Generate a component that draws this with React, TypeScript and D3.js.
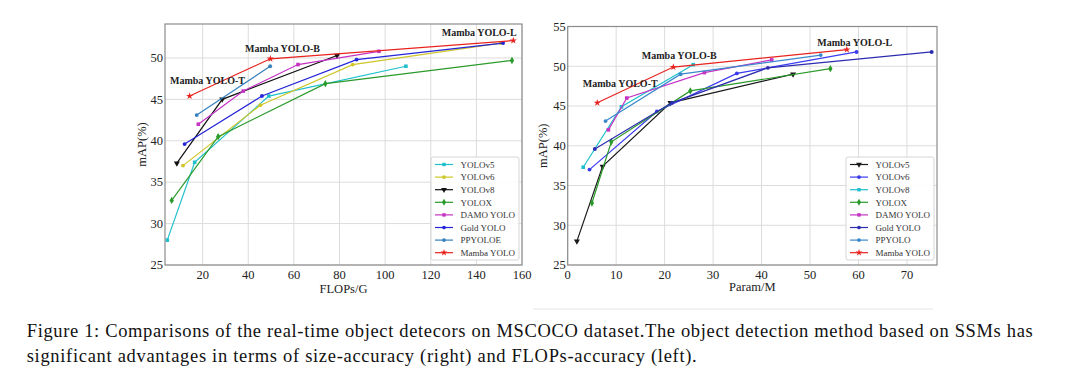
import React from 'react';
import * as d3 from 'd3';

// ---- DATA ----
const seriesNamesLeft = ['YOLOv5', 'YOLOv6', 'YOLOv8', 'YOLOX', 'DAMO YOLO', 'Gold YOLO', 'PPYOLOE', 'Mamba YOLO'];
const seriesNamesRight = ['YOLOv5', 'YOLOv6', 'YOLOv8', 'YOLOX', 'DAMO YOLO', 'Gold YOLO', 'PPYOLO', 'Mamba YOLO'];

// FLOPs (G) vs mAP
const yolov5Flops = [4.5, 16.5, 49.0, 109.1];
const yolov5MapL = [28.0, 37.4, 45.4, 49.0];
const yolov6Flops = [11.4, 45.3, 85.8, 150.7];
const yolov6MapL = [37.0, 44.3, 49.2, 51.8];
const yolov8Flops = [8.7, 28.6, 78.9];
const yolov8MapL = [37.3, 45.0, 50.3];
const yoloxFlops = [6.45, 26.8, 73.8, 155.6];
const yoloxMapL = [32.8, 40.5, 46.9, 49.7];
const damoFlops = [18.1, 37.8, 61.8, 97.3];
const damoMapL = [42.0, 46.0, 49.2, 50.8];
const goldFlops = [12.1, 46.0, 87.5, 151.7];
const goldMapL = [39.6, 45.4, 49.8, 51.8];
const ppyoloeFlops = [17.4, 49.6];
const ppyoloeMapL = [43.1, 49.0];
const mambaFlops = [14.3, 49.7, 156.2];
const mambaMapL = [45.4, 49.9, 52.1];

// Params (M) vs mAP
const yolov5Params = [1.9, 7.2, 21.2, 46.5];
const yolov5MapR = [28.0, 37.4, 45.4, 49.0];
const yolov6Params = [4.5, 18.4, 34.9, 59.6];
const yolov6MapR = [37.0, 44.3, 49.1, 51.8];
const yolov8Params = [3.2, 11.1, 25.9];
const yolov8MapR = [37.3, 44.9, 50.2];
const yoloxParams = [5.0, 9.0, 25.3, 54.2];
const yoloxMapR = [32.8, 40.5, 46.9, 49.7];
const damoParams = [8.4, 12.2, 28.2, 42.1];
const damoMapR = [42.0, 46.0, 49.2, 50.8];
const goldParams = [5.6, 21.5, 41.3, 75.1];
const goldMapR = [39.6, 45.4, 49.8, 51.8];
const ppyoloParams = [7.8, 23.3, 52.2];
const ppyoloMapR = [43.1, 49.0, 51.4];
const mambaParams = [6.1, 21.8, 57.6];
const mambaMapR = [45.4, 49.9, 52.1];

const leftXTicks = [20, 40, 60, 80, 100, 120, 140, 160];
const rightXTicks = [0, 10, 20, 30, 40, 50, 60, 70];
const yTicks = [25, 30, 35, 40, 45, 50, 55];

const annotationText = ['Mamba YOLO-T', 'Mamba YOLO-B', 'Mamba YOLO-L'];
const annotLeftX = [5.7, 38.6, 124.8];
const annotLeftY = [46.9, 50.7, 52.7];
const annotRightX = [3.1, 15.3, 51.5];
const annotRightY = [47.4, 50.9, 52.55];

const captionLines = [
  'Figure 1: Comparisons of the real-time object detecors on MSCOCO dataset.The object detection method based on SSMs has',
  'significant advantages in terms of size-accuracy (right) and FLOPs-accuracy (left).',
];

// ---- STYLE ----
const serif = '"Liberation Serif", "Times New Roman", serif';
const gridColor = '#dcdcdc';
const spineColor = '#8c8c8c';

const colorsLeft = ['#1fc0cc', '#cfc62a', '#111111', '#2a9a2a', '#c533c5', '#2424d8', '#3580bd', '#e8231e'];
const colorsRight = ['#1a1a1a', '#3a3af0', '#1fc0cc', '#2a9a2a', '#c533c5', '#2c2cb0', '#3a88cc', '#e8231e'];
// marker kinds: 'sq' square, 'dot' small circle, 'tri' triangle down, 'dia' diamond, 'star'
const markersLeft = ['sq', 'dot', 'tri', 'dia', 'sq', 'dot', 'dot', 'star'];
const markersRight = ['tri', 'dot', 'sq', 'dia', 'sq', 'dot', 'dot', 'star'];

type Series = { name: string; xs: number[]; ys: number[]; color: string; marker: string };

const leftSeries: Series[] = [
  [yolov5Flops, yolov5MapL], [yolov6Flops, yolov6MapL], [yolov8Flops, yolov8MapL], [yoloxFlops, yoloxMapL],
  [damoFlops, damoMapL], [goldFlops, goldMapL], [ppyoloeFlops, ppyoloeMapL], [mambaFlops, mambaMapL],
].map(([xs, ys], i) => ({ name: seriesNamesLeft[i], xs, ys, color: colorsLeft[i], marker: markersLeft[i] }));

const rightSeries: Series[] = [
  [yolov5Params, yolov5MapR], [yolov6Params, yolov6MapR], [yolov8Params, yolov8MapR], [yoloxParams, yoloxMapR],
  [damoParams, damoMapR], [goldParams, goldMapR], [ppyoloParams, ppyoloMapR], [mambaParams, mambaMapR],
].map(([xs, ys], i) => ({ name: seriesNamesRight[i], xs, ys, color: colorsRight[i], marker: markersRight[i] }));

function markerPath(kind: string, scale = 1) {
  const types: Record<string, [d3.SymbolType, number]> = {
    sq: [d3.symbolSquare, 13],
    dot: [d3.symbolCircle, 12],
    tri: [d3.symbolTriangle, 16],
    dia: [d3.symbolDiamond, 16],
    star: [d3.symbolStar, 16],
  };
  const [t, s] = types[kind];
  return d3.symbol().type(t).size(s * scale)() || '';
}

type PanelProps = {
  series: Series[];
  x: d3.ScaleLinear<number, number>;
  y: d3.ScaleLinear<number, number>;
  xTicks: number[];
  xLabel: string;
  xLabelY: number;
  yLabelX: number;
  annX: number[];
  annY: number[];
  legend: { x: number; y: number; w: number; h: number };
};

function Panel({ series, x, y, xTicks, xLabel, xLabelY, yLabelX, annX, annY, legend }: PanelProps) {
  const [x0, x1] = x.range();
  const [y0, y1] = y.range();
  const yt = yTicks.filter(t => t >= y.domain()[0] && t <= y.domain()[1] + 0.01);
  const line = d3.line<number>();
  return (
    <g>
      {/* grid */}
      {xTicks.map(t => (
        <line key={'gx' + t} x1={x(t)} x2={x(t)} y1={y0} y2={y1} stroke={gridColor} strokeWidth={1} />
      ))}
      {yt.map(t => (
        <line key={'gy' + t} x1={x0} x2={x1} y1={y(t)} y2={y(t)} stroke={gridColor} strokeWidth={1} />
      ))}
      {/* series */}
      {series.map(s => {
        const pts = s.xs.map((v, i) => [x(v), y(s.ys[i])] as [number, number]);
        const sym = markerPath(s.marker);
        const rot = s.marker === 'tri' ? ' rotate(180)' : '';
        return (
          <g key={s.name}>
            <path d={line(pts) || ''} fill="none" stroke={s.color} strokeWidth={1.2} />
            {pts.map((p, i) => (
              <path key={i} d={sym} transform={`translate(${p[0]},${p[1]})${rot}`} fill={s.color} />
            ))}
          </g>
        );
      })}
      {/* frame */}
      <rect x={x0} y={y1} width={x1 - x0} height={y0 - y1} fill="none" stroke={spineColor} strokeWidth={1.2} />
      {/* ticks */}
      {xTicks.map(t => (
        <text key={'tx' + t} x={x(t)} y={y0 + 13.5} textAnchor="middle" fontFamily={serif} fontSize={12.5} fill="#222">{t}</text>
      ))}
      {yt.map(t => (
        <text key={'ty' + t} x={x0 - 2} y={y(t) + 4.3} textAnchor="end" fontFamily={serif} fontSize={12.5} fill="#222">{t}</text>
      ))}
      <text x={(x0 + x1) / 2} y={xLabelY} textAnchor="middle" fontFamily={serif} fontSize={12.5} fill="#222">{xLabel}</text>
      <text transform={`translate(${yLabelX},${(y0 + y1) / 2}) rotate(-90)`} textAnchor="middle" fontFamily={serif} fontSize={12.5} fill="#222">mAP(%)</text>
      {/* annotations */}
      {annotationText.map((t, i) => (
        <text key={t} x={x(annX[i])} y={y(annY[i])} fontFamily={serif} fontWeight="bold" fontSize={10} fill="#222">{t}</text>
      ))}
      {/* legend */}
      <rect x={legend.x} y={legend.y} width={legend.w} height={legend.h} rx={2} fill="#fff" fillOpacity={0.9} stroke="#d6d6d6" strokeWidth={1} />
      {series.map((s, i) => {
        const ry = legend.y + 7.5 + i * 12.6;
        const rot = s.marker === 'tri' ? ' rotate(180)' : '';
        return (
          <g key={'lg' + s.name}>
            <line x1={legend.x + 4} x2={legend.x + 22} y1={ry} y2={ry} stroke={s.color} strokeWidth={1.2} />
            <path d={markerPath(s.marker, 0.9)} transform={`translate(${legend.x + 13},${ry})${rot}`} fill={s.color} />
            <text x={legend.x + 29.5} y={ry + 3.2} fontFamily={serif} fontSize={9} fill="#333">{s.name}</text>
          </g>
        );
      })}
    </g>
  );
}

export default function App() {
  const xLeft = d3.scaleLinear().domain([3.5, 160]).range([165, 522]);
  const yLeft = d3.scaleLinear().domain([25, 54.1]).range([265, 24]);
  const xRight = d3.scaleLinear().domain([0, 76.2]).range([567.7, 937]);
  const yRight = d3.scaleLinear().domain([25, 55]).range([265, 26.5]);

  return (
    <svg width={1080} height={386} style={{ position: 'absolute', left: 0, top: 0, background: '#fff' }}>
      <rect width={1080} height={386} fill="#fff" />
      <Panel series={leftSeries} x={xLeft} y={yLeft} xTicks={leftXTicks} xLabel="FLOPs/G" xLabelY={292.5}
        yLabelX={146} annX={annotLeftX} annY={annotLeftY} legend={{ x: 431, y: 157, w: 88, h: 103 }} />
      <Panel series={rightSeries} x={xRight} y={yRight} xTicks={rightXTicks} xLabel="Param/M" xLabelY={291}
        yLabelX={547} annX={annotRightX} annY={annotRightY} legend={{ x: 846, y: 157, w: 88, h: 103 }} />
      <line x1={533} x2={933} y1={309} y2={309} stroke="#e6e6e6" strokeWidth={1} />
      <text x={26.7} y={337} fontFamily={serif} fontSize={18.5} fill="#111" textLength={1006} lengthAdjust="spacing">{captionLines[0]}</text>
      <text x={26.7} y={362} fontFamily={serif} fontSize={18.5} fill="#111" textLength={670} lengthAdjust="spacing">{captionLines[1]}</text>
    </svg>
  );
}
